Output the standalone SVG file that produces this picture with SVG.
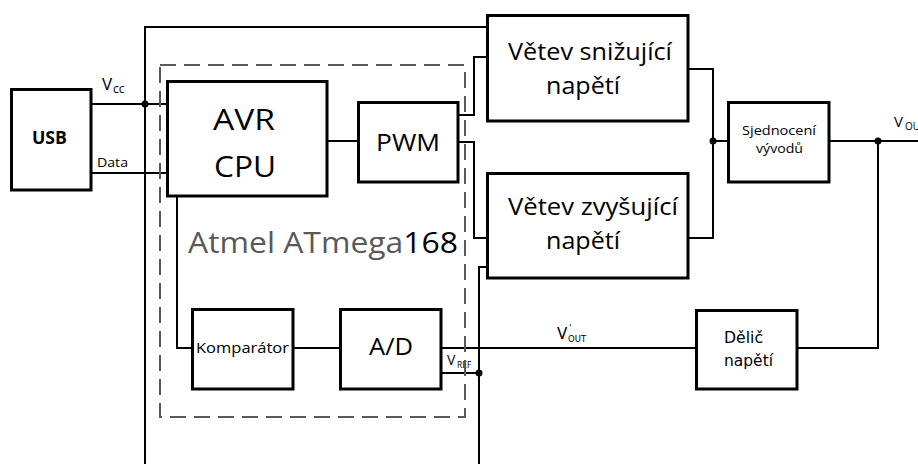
<svg xmlns="http://www.w3.org/2000/svg" width="918" height="464" viewBox="0 0 918 464">
<style>
.box{fill:#fff;stroke:#000;stroke-width:3}
.w{fill:none;stroke:#000;stroke-width:2}
.t{font-family:"Open Sans","Liberation Sans",sans-serif;fill:#000}
.d{font-family:"DejaVu Sans","Open Sans",sans-serif;fill:#000}
.dot{fill:#000}
</style>
<rect x="0" y="0" width="918" height="464" fill="#fff"/>
<g id="connectors">
<path class="w" d="M91,104 H167"/>
<path class="w" d="M91,173 H167"/>
<path class="w" d="M145,464 V27 H487"/>
<path class="w" d="M327,141 H358"/>
<path class="w" d="M458,115 H474 V57 H487"/>
<path class="w" d="M458,142 H474 V238 H487"/>
<path class="w" d="M177,196 V348 H192"/>
<path class="w" d="M293,348 H340"/>
<path class="w" d="M441,348 H696"/>
<path class="w" d="M441,373 H479"/>
<path class="w" d="M487,267 H479 V464"/>
<path class="w" d="M688,69 H713 V238 H688"/>
<path class="w" d="M713,141 H728"/>
<path class="w" d="M829,141 H918"/>
<path class="w" d="M878,141 V348 H797"/>
<circle class="dot" cx="145" cy="104" r="3.5"/>
<circle class="dot" cx="713" cy="141" r="3.5"/>
<circle class="dot" cx="878" cy="141" r="3.5"/>
<circle class="dot" cx="479" cy="373" r="3.5"/>
<text class="t" x="102" y="90" font-size="17">V</text>
<text class="t" x="113" y="93" font-size="12">cc</text>
<text class="t" x="97" y="167" font-size="13" textLength="31" lengthAdjust="spacingAndGlyphs">Data</text>
<text class="t" x="447" y="365" font-size="14">V</text>
<text class="t" x="457" y="368" font-size="8.5">REF</text>
<text class="d" x="557" y="339" font-size="15">V</text>
<text class="d" x="569" y="331" font-size="9">'</text>
<text class="d" x="568" y="342" font-size="8.5">OUT</text>
<text class="t" x="894" y="127" font-size="15">V</text>
<text class="t" x="905" y="130" font-size="10">OUT</text>
</g>
<g id="chip">
<rect x="160" y="65" width="305" height="352" fill="none" stroke="#595959" stroke-width="2" stroke-dasharray="16 8"/>
<text class="t" x="188" y="253" font-size="29" textLength="270" lengthAdjust="spacingAndGlyphs"><tspan fill="#595959">Atmel ATmega</tspan><tspan fill="#000">168</tspan></text>
</g>
<g id="usb">
<rect class="box" x="11.5" y="89.5" width="79.5" height="100.5"/>
<text class="t" x="32" y="144" font-size="17" font-weight="bold" textLength="35" lengthAdjust="spacingAndGlyphs">USB</text>
</g>
<g id="avr">
<rect class="box" x="167.5" y="81.5" width="159.5" height="114.5"/>
<text class="t" x="213" y="130" font-size="30" textLength="62" lengthAdjust="spacingAndGlyphs">AVR</text>
<text class="t" x="214" y="177" font-size="30" textLength="62" lengthAdjust="spacingAndGlyphs">CPU</text>
</g>
<g id="pwm">
<rect class="box" x="358.5" y="102.5" width="99.5" height="79.5"/>
<text class="t" x="376" y="151" font-size="23" textLength="64" lengthAdjust="spacingAndGlyphs">PWM</text>
</g>
<g id="snizujici">
<rect class="box" x="487.5" y="15.5" width="200.5" height="105.5"/>
<text class="t" x="508" y="60" font-size="24" textLength="164" lengthAdjust="spacingAndGlyphs">Větev snižující</text>
<text class="t" x="546" y="94" font-size="24" textLength="74" lengthAdjust="spacingAndGlyphs">napětí</text>
</g>
<g id="zvysujici">
<rect class="box" x="487.5" y="173.5" width="200.5" height="104.5"/>
<text class="t" x="508" y="215" font-size="24" textLength="170" lengthAdjust="spacingAndGlyphs">Větev zvyšující</text>
<text class="t" x="546" y="249" font-size="24" textLength="74" lengthAdjust="spacingAndGlyphs">napětí</text>
</g>
<g id="sjednoceni">
<rect class="box" x="728.5" y="102.5" width="100.5" height="79.5"/>
<text class="t" x="742" y="135" font-size="13" textLength="74" lengthAdjust="spacingAndGlyphs">Sjednocení</text>
<text class="t" x="756" y="153" font-size="13" textLength="47" lengthAdjust="spacingAndGlyphs">vývodů</text>
</g>
<g id="komparator">
<rect class="box" x="192.5" y="309.5" width="100.5" height="79.5"/>
<text class="t" x="196" y="353" font-size="15" textLength="93" lengthAdjust="spacingAndGlyphs">Komparátor</text>
</g>
<g id="ad">
<rect class="box" x="340.5" y="309.5" width="100.5" height="79.5"/>
<text class="t" x="369" y="355" font-size="24" textLength="44" lengthAdjust="spacingAndGlyphs">A/D</text>
</g>
<g id="delic">
<rect class="box" x="696.5" y="310.5" width="100.5" height="78.5"/>
<text class="d" x="724" y="343" font-size="15" textLength="39" lengthAdjust="spacingAndGlyphs">Dělič</text>
<text class="d" x="724" y="366" font-size="15" textLength="49" lengthAdjust="spacingAndGlyphs">napětí</text>
</g>
</svg>
